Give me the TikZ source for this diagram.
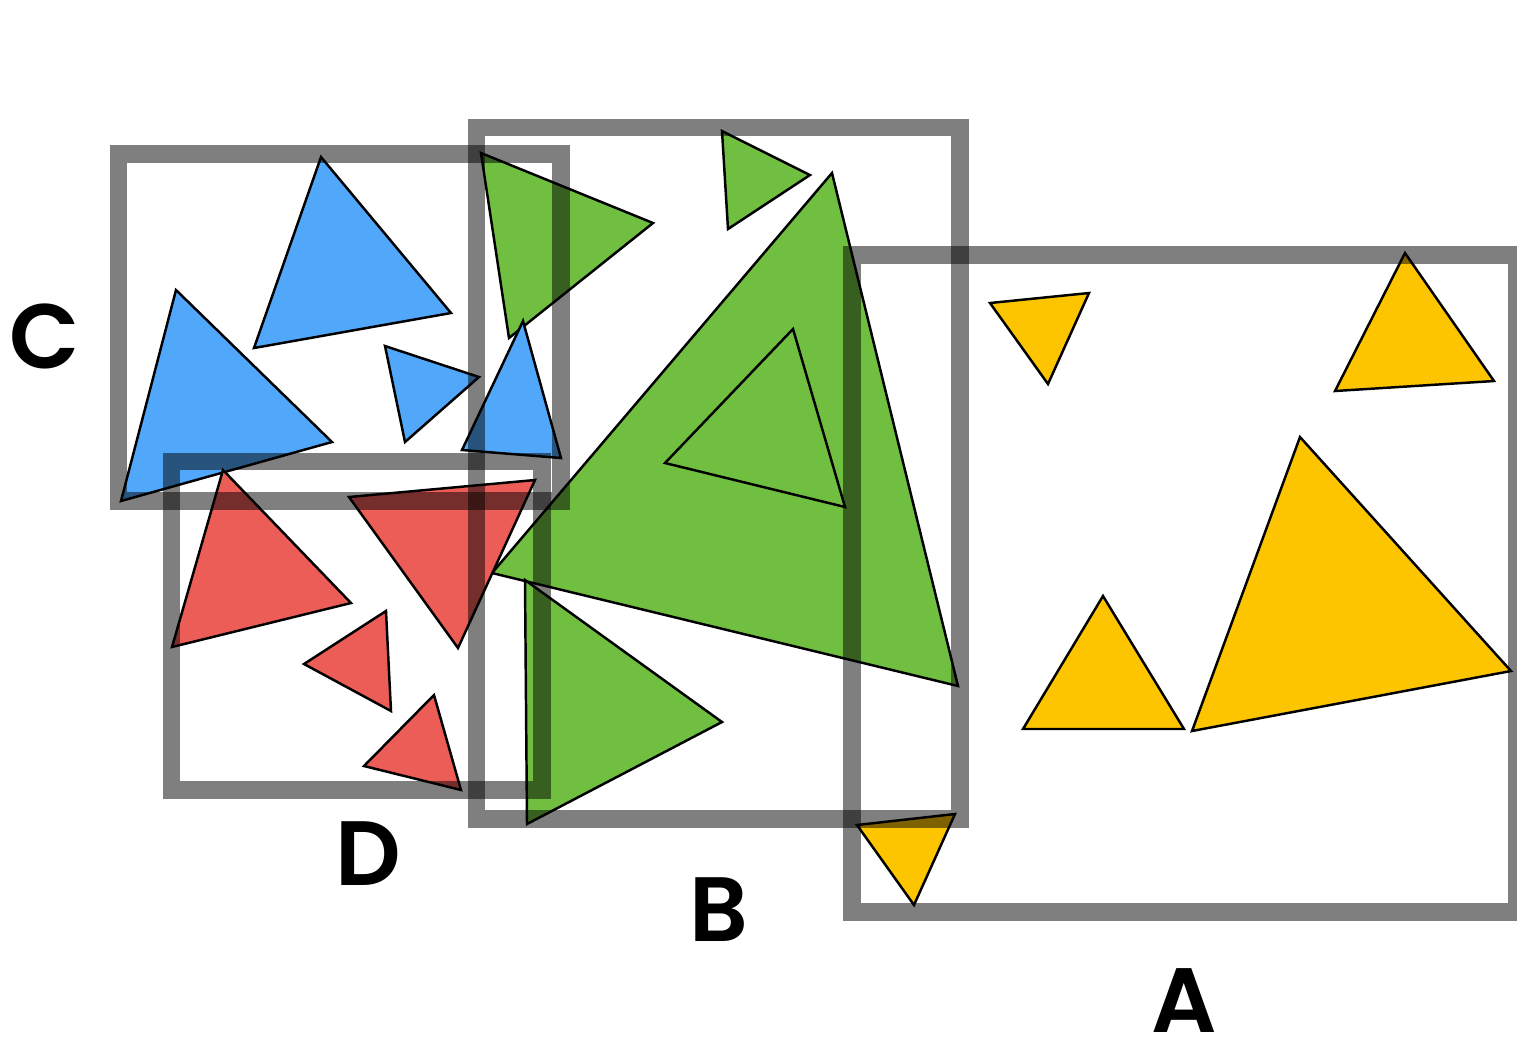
\documentclass[tikz,border=0pt]{standalone}
\usepackage{fontspec}
\setsansfont{Poppins}[BoldFont={Poppins SemiBold}]
\usepackage{tikz}
\usetikzlibrary{positioning}
\definecolor{shape-blue}{RGB}{81,167,249}
\definecolor{shape-red}{RGB}{236,93,87}
\definecolor{shape-green}{RGB}{112,191,65}
\definecolor{shape-yellow}{RGB}{253,196,0}
\tikzset{
    tri/.style={draw=black, line width=0.7pt},
    groupbox/.style={draw=black, draw opacity=0.5, line width=5.1pt},
    boxlabel/.style={font=\sffamily\bfseries\fontsize{26}{30}\selectfont, inner sep=0pt, anchor=base}
}

\begin{document}
\begin{tikzpicture}[x=0.01cm, y=-0.01cm]
    \useasboundingbox (0, 0) rectangle (1517, 1041);

    % ===== Green triangles =====
    \filldraw[tri, fill=shape-green] (481, 153) -- (653, 223) -- (509, 338) -- cycle;
    \filldraw[tri, fill=shape-green] (722, 131) -- (810, 175) -- (728, 229) -- cycle;
    \filldraw[tri, fill=shape-green] (832, 173) -- (958, 686) -- (492, 573) -- cycle;
    \filldraw[tri, fill=shape-green] (793, 329) -- (845, 507) -- (665, 463) -- cycle;
    \filldraw[tri, fill=shape-green] (525, 580) -- (722, 722) -- (527, 824) -- cycle;

    % ===== Blue triangles =====
    \filldraw[tri, fill=shape-blue] (321, 157) -- (451, 313) -- (254, 348) -- cycle;
    \filldraw[tri, fill=shape-blue] (176, 290) -- (332, 442) -- (121, 501) -- cycle;
    \filldraw[tri, fill=shape-blue] (385, 346) -- (479, 377) -- (405, 442) -- cycle;
    \filldraw[tri, fill=shape-blue] (523, 321) -- (561, 458) -- (462, 450) -- cycle;

    % ===== Red triangles =====
    \filldraw[tri, fill=shape-red] (223, 470) -- (351, 603) -- (172, 647) -- cycle;
    \filldraw[tri, fill=shape-red] (349, 497) -- (535, 480) -- (458, 648) -- cycle;
    \filldraw[tri, fill=shape-red] (386, 611) -- (391, 711) -- (304, 664) -- cycle;
    \filldraw[tri, fill=shape-red] (434, 695) -- (461, 790) -- (364, 766) -- cycle;

    % ===== Yellow triangles =====
    \filldraw[tri, fill=shape-yellow] (990, 303) -- (1089, 293) -- (1048, 384) -- cycle;
    \filldraw[tri, fill=shape-yellow] (1405, 253) -- (1494, 381) -- (1335, 391) -- cycle;
    \filldraw[tri, fill=shape-yellow] (1103, 596) -- (1184, 729) -- (1023, 729) -- cycle;
    \filldraw[tri, fill=shape-yellow] (1300, 437) -- (1511, 671) -- (1192, 731) -- cycle;
    \filldraw[tri, fill=shape-yellow] (857, 825) -- (955, 814) -- (914, 905) -- cycle;

    % ===== Group boxes =====
    \draw[groupbox] (118.5, 154) rectangle (561, 501);
    \draw[groupbox] (171.5, 461.5) rectangle (542, 790);
    \draw[groupbox] (476.5, 127.5) rectangle (960, 819);
    \draw[groupbox] (852, 255) rectangle (1517, 912);

    % ===== Box labels =====
    \node[boxlabel] (labelC) at (45, 368) {C};
    \node[boxlabel] (labelD) at (368, 885) {D};
    \node[boxlabel] (labelB) at (719, 941) {B};
    \node[boxlabel] (labelA) at (1184, 1032) {A};

\end{tikzpicture}
\end{document}
